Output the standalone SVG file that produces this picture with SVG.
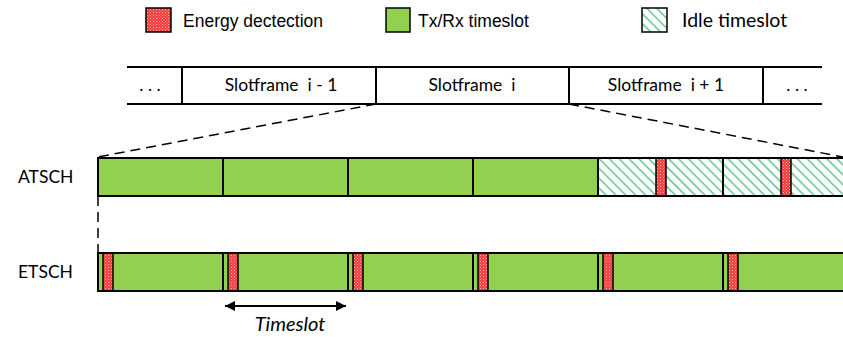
<svg xmlns="http://www.w3.org/2000/svg" width="843" height="337" viewBox="0 0 843 337">
<defs>
<pattern id="red" width="3" height="3" patternUnits="userSpaceOnUse">
<rect width="3" height="3" fill="#f03c3c"/>
<rect x="0" y="0" width="1" height="1" fill="#ffb0b0"/>
<rect x="1.5" y="1.5" width="1" height="1" fill="#ff9090"/>
</pattern>
<pattern id="hatch" width="7" height="7" patternUnits="userSpaceOnUse" patternTransform="rotate(45)">
<rect width="7" height="7" fill="#ffffff"/>
<line x1="0" y1="3.5" x2="7" y2="3.5" stroke="#4cc083" stroke-width="1.4"/>
</pattern>
<marker id="ah" viewBox="0 0 10 10" refX="10" refY="5" markerWidth="10" markerHeight="10" markerUnits="userSpaceOnUse" orient="auto-start-reverse">
<path d="M0,0 L10,5 L0,10 z" fill="#000"/>
</marker>
<style>
.arial{font-family:"Liberation Sans",Arial,sans-serif;font-size:17.5px;fill:#000}
.cal{font-family:Lato,"Open Sans",sans-serif;font-size:17.5px;fill:#000}
.pre{white-space:pre}
.ln{stroke:#000;stroke-width:2;fill:none}
.dv{stroke:#000;stroke-width:2}
.dash{stroke:#000;stroke-width:1.5;stroke-dasharray:10 6;fill:none}
.g{fill:#92d050}
.r{fill:url(#red);stroke:#000;stroke-width:1.5}
.h{fill:url(#hatch)}
</style>
</defs>
<rect width="843" height="337" fill="#fff"/>

<g id="legend">
<g id="legend-energy"><rect x="146" y="8" width="25" height="24" class="r"/><text x="183" y="27" class="arial">Energy dectection</text></g>
<g id="legend-txrx"><rect x="386" y="8" width="24" height="24" class="g" stroke="#000" stroke-width="1.5"/><text x="418" y="27" class="arial">Tx/Rx timeslot</text></g>
<g id="legend-idle"><rect x="642" y="8" width="25" height="24" class="h" stroke="#000" stroke-width="1.5"/><text x="682" y="27" class="cal" style="font-size:19.5px">Idle timeslot</text></g>
</g>

<g id="slotframes">
<line x1="127" y1="67" x2="822" y2="67" class="ln"/>
<line x1="127" y1="104" x2="822" y2="104" class="ln"/>
<line x1="182" y1="67" x2="182" y2="104" class="dv"/>
<line x1="376" y1="67" x2="376" y2="104" class="dv"/>
<line x1="569" y1="67" x2="569" y2="104" class="dv"/>
<line x1="763" y1="67" x2="763" y2="104" class="dv"/>
<text x="150" y="91" class="cal" text-anchor="middle">. . .</text>
<text x="281" y="91" class="cal pre" text-anchor="middle">Slotframe  i - 1</text>
<text x="472" y="91" class="cal pre" text-anchor="middle">Slotframe  i</text>
<text x="666" y="91" class="cal pre" text-anchor="middle">Slotframe  i + 1</text>
<text x="797" y="91" class="cal" text-anchor="middle">. . .</text>
</g>

<g id="connectors">
<line x1="376" y1="104" x2="98" y2="157" class="dash"/>
<line x1="569" y1="104" x2="843" y2="157" class="dash"/>
<line x1="98" y1="196" x2="98" y2="253" class="dash"/>
<line x1="225" y1="306" x2="346" y2="306" stroke="#000" stroke-width="2" marker-start="url(#ah)" marker-end="url(#ah)"/>
</g>

<g id="atsch">
<text x="18" y="183" class="cal">ATSCH</text>
<rect x="98" y="158" width="500" height="38" class="g"/>
<rect x="598" y="158" width="245" height="38" class="h"/>
<rect x="656" y="158" width="10" height="38" class="r"/>
<rect x="781" y="158" width="10" height="38" class="r"/>
<line x1="98" y1="158" x2="843" y2="158" class="ln"/>
<line x1="98" y1="196" x2="843" y2="196" class="ln"/>
<line x1="98" y1="157" x2="98" y2="197" class="dv"/>
<line x1="223" y1="158" x2="223" y2="196" class="dv"/>
<line x1="348" y1="158" x2="348" y2="196" class="dv"/>
<line x1="473" y1="158" x2="473" y2="196" class="dv"/>
<line x1="598" y1="158" x2="598" y2="196" class="dv"/>
<line x1="723" y1="158" x2="723" y2="196" class="dv"/>
</g>

<g id="etsch">
<text x="18" y="278" class="cal">ETSCH</text>
<rect x="98" y="253" width="745" height="38" class="g"/>
<rect x="103" y="253" width="10" height="38" class="r"/>
<rect x="228" y="253" width="10" height="38" class="r"/>
<rect x="353" y="253" width="10" height="38" class="r"/>
<rect x="478" y="253" width="10" height="38" class="r"/>
<rect x="603" y="253" width="10" height="38" class="r"/>
<rect x="728" y="253" width="10" height="38" class="r"/>
<line x1="98" y1="253" x2="843" y2="253" class="ln"/>
<line x1="98" y1="291" x2="843" y2="291" class="ln"/>
<line x1="98" y1="252" x2="98" y2="292" class="dv"/>
<line x1="223" y1="253" x2="223" y2="291" class="dv"/>
<line x1="348" y1="253" x2="348" y2="291" class="dv"/>
<line x1="473" y1="253" x2="473" y2="291" class="dv"/>
<line x1="598" y1="253" x2="598" y2="291" class="dv"/>
<line x1="723" y1="253" x2="723" y2="291" class="dv"/>
</g>

<g id="timeslot-label">
<text x="290" y="331" class="cal" text-anchor="middle" font-style="italic" style="font-size:20px">Timeslot</text>
</g>
</svg>
